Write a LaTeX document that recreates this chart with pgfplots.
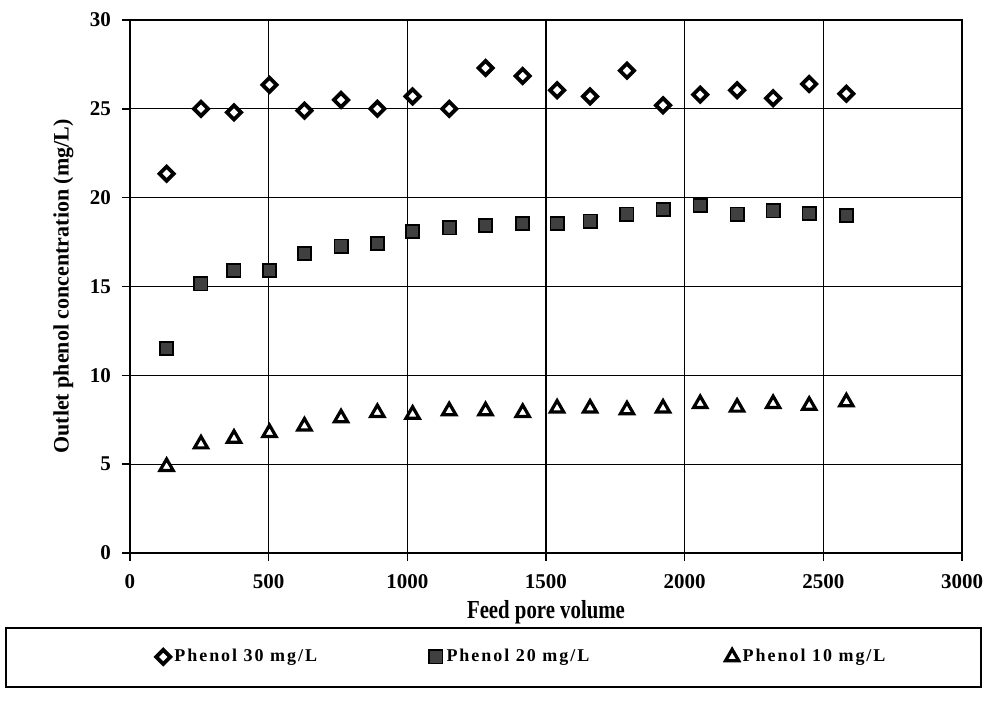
\documentclass[border=0pt]{standalone}
\usepackage{fontspec}
\setmainfont{Liberation Serif}
\usepackage{graphicx}
\usepackage{pgfplots}
\pgfplotsset{compat=1.18}
\begin{document}
\begin{tikzpicture}
\path[use as bounding box] (-65pt,-74.5pt) rectangle (428pt,276.5pt);
\begin{axis}[
  at={(0,0)}, anchor=south west,
  scale only axis, width=416pt, height=266.5pt,
  xmin=0, xmax=3000, ymin=0, ymax=30,
  xtick={0,500,...,3000}, ytick={0,5,...,30},
  grid=major,
  major grid style={black, line width=0.6pt},
  axis line style={black, line width=1pt},
  tick align=outside, xtick pos=left, ytick pos=left,
  major tick length=4pt,
  tick style={black, line width=0.8pt},
  /pgf/number format/assume math mode=true,
  /pgf/number format/set thousands separator={},
  ticklabel style={font=\fontsize{10.5}{12}\selectfont\bfseries},
  xticklabel style={yshift=-3pt},
  yticklabel style={xshift=-2pt},
  xlabel={\scalebox{0.8}[1]{Feed pore volume}},
  xlabel style={font=\fontsize{13}{15}\selectfont\bfseries, at={(axis description cs:0.5,-0.111)}, anchor=center},
  ylabel={Outlet phenol concentration (mg/L)},
  ylabel style={font=\fontsize{11}{13}\selectfont\bfseries, at={(axis description cs:-0.080,0.5)}, anchor=center, rotate=0},
  legend columns=3,
  legend image code/.code={\draw[mark repeat=2,mark phase=2,#1] plot coordinates {(0cm,0cm)(0.1cm,0cm)(0.2cm,0cm)};},
  legend style={draw=none, fill=none, at={(axis description cs:0.031,-0.195)}, anchor=west,
    font=\fontsize{9}{10}\selectfont\bfseries\addfontfeature{LetterSpace=11}, inner xsep=0pt,
    /tikz/every even column/.append style={column sep=0pt}},
]
\addplot[only marks, mark=square*, mark size=2.5pt, mark options={rotate=45, fill=white, draw=black, line width=1.9pt}]
coordinates {
(132,21.35)(256,25.0)(375,24.8)(503,26.35)(629,24.9)(761,25.5)(892,25.0)(1019,25.7)(1151,25.0)(1282,27.3)
(1416,26.85)(1540,26.05)(1659,25.7)(1792,27.15)(1922,25.2)(2056,25.8)(2189,26.05)(2319,25.6)(2449,26.4)(2583,25.85)};
\addlegendentry{\makebox[125.5pt][l]{Phenol 30 mg/L}}
\addplot[only marks, mark=square*, mark size=3.3pt, mark options={fill=black!75, draw=black, line width=0.9pt}]
coordinates {
(132,11.5)(256,15.15)(375,15.9)(503,15.9)(629,16.86)(761,17.27)(892,17.42)(1019,18.08)(1151,18.3)(1282,18.42)
(1416,18.55)(1540,18.55)(1659,18.68)(1792,19.08)(1922,19.34)(2056,19.55)(2189,19.08)(2319,19.25)(2449,19.11)(2583,18.98)};
\addlegendentry{\makebox[137.5pt][l]{Phenol 20 mg/L}}
\addplot[only marks, mark=triangle*, mark size=3.8pt, mark options={fill=white, draw=black, line width=1.6pt}]
coordinates {
(132,4.86)(256,6.13)(375,6.45)(503,6.77)(629,7.14)(761,7.6)(892,7.9)(1019,7.8)(1151,8.0)(1282,8.0)
(1416,7.9)(1540,8.15)(1659,8.15)(1792,8.05)(1922,8.15)(2056,8.4)(2189,8.2)(2319,8.4)(2449,8.3)(2583,8.5)};
\addlegendentry{Phenol 10 mg/L}
\end{axis}
\draw[line width=1.4pt] (-62pt,-37.5pt) rectangle (425.5pt,-67pt);
\end{tikzpicture}
\end{document}
